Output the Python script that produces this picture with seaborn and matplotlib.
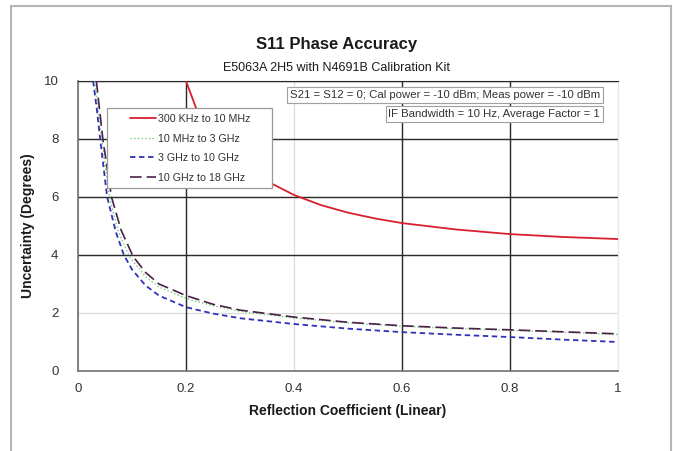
import pandas as pd
import matplotlib.pyplot as plt
import seaborn as sns
from matplotlib.patches import Rectangle

# Curve readings (reflection coefficient vs. phase uncertainty in degrees)
red_x = [0.2, 0.22, 0.25, 0.28, 0.3, 0.33, 0.36, 0.4, 0.45, 0.5, 0.55, 0.6, 0.7, 0.8, 0.9, 1.0]
red_y = [10.0, 9.0, 8.1, 7.45, 7.1, 6.75, 6.45, 6.07, 5.72, 5.46, 5.26, 5.1, 4.88, 4.72, 4.62, 4.55]

green_x = [0.031, 0.037, 0.044, 0.058, 0.075, 0.095, 0.125, 0.15, 0.2, 0.25, 0.3, 0.4, 0.5, 0.6, 0.7, 0.8, 0.9, 1.0]
green_y = [10.0, 9.0, 8.0, 6.0, 4.8, 3.95, 3.25, 2.9, 2.5, 2.25, 2.06, 1.83, 1.66, 1.54, 1.46, 1.4, 1.33, 1.26]

blue_x = [0.028, 0.035, 0.041, 0.054, 0.07, 0.085, 0.1, 0.125, 0.15, 0.2, 0.25, 0.3, 0.4, 0.5, 0.6, 0.7, 0.8, 0.9, 1.0]
blue_y = [10.0, 9.0, 8.0, 6.0, 4.8, 4.0, 3.5, 2.95, 2.6, 2.2, 1.98, 1.82, 1.62, 1.46, 1.34, 1.25, 1.17, 1.08, 1.0]

purple_x = [0.034, 0.04, 0.046, 0.062, 0.08, 0.102, 0.125, 0.15, 0.2, 0.25, 0.3, 0.4, 0.5, 0.6, 0.7, 0.8, 0.9, 1.0]
purple_y = [10.0, 9.0, 8.0, 6.0, 4.85, 3.95, 3.4, 3.0, 2.6, 2.3, 2.1, 1.86, 1.68, 1.56, 1.48, 1.42, 1.35, 1.28]

labels = ['300 KHz to 10 MHz', '10 MHz to 3 GHz', '3 GHz to 10 GHz', '10 GHz to 18 GHz']
x_ticks = [0, 0.2, 0.4, 0.6, 0.8, 1]
x_ticklabels = ['0', '0.2', '0.4', '0.6', '0.8', '1']
y_ticks = [0, 2, 4, 6, 8, 10]
dark_x = [0.2, 0.6, 0.8]
dark_y = [4, 6, 8, 10]

sns.set_style('white')
plt.rcParams['font.family'] = ['Liberation Sans', 'DejaVu Sans']

fig = plt.figure(figsize=(6.73, 4.51), dpi=100)
ax = fig.add_axes([0.1159, 0.1774, 0.8024, 0.643])

# outer frame
fig.patches.append(Rectangle((11 / 673, -0.05), 660 / 673, 1 - 6 / 451 + 0.05,
                             transform=fig.transFigure, fill=False,
                             edgecolor='#b5b5b5', linewidth=1.5))

# grid: light for all, dark for the major ones
ax.grid(True, color='#dcdcdc', linewidth=0.9)
for v in dark_x:
    ax.axvline(v, color='#2a2a2a', linewidth=1.0, zorder=1)
for v in dark_y:
    ax.axhline(v, color='#2a2a2a', linewidth=1.0, zorder=1)

styles = [
    (red_x, red_y, '#d81f2e', '-', 1.3),
    (green_x, green_y, '#6fcf6f', ':', 1.0),
    (blue_x, blue_y, '#3030b8', (0, (3, 2)), 1.3),
    (purple_x, purple_y, '#4a1f4a', (0, (7, 3)), 1.2),
]
for (xs, ys, c, ls, lw), lab in zip(styles, labels):
    df = pd.DataFrame({'x': xs, 'y': ys})
    sns.lineplot(data=df, x='x', y='y', color=c, linestyle=ls, linewidth=lw,
                 label=lab, ax=ax, zorder=3)

ax.set_xlim(0, 1)
ax.set_ylim(0, 10)
ax.set_xticks(x_ticks)
ax.set_xticklabels(x_ticklabels)
ax.set_yticks(y_ticks)
ax.tick_params(axis='both', length=0, labelsize=9.5, colors='#333333')
ax.tick_params(axis='x', pad=9)
ax.tick_params(axis='y', pad=14)

for side in ['left', 'bottom']:
    ax.spines[side].set_color('#707070')
    ax.spines[side].set_linewidth(1.2)
ax.spines['top'].set_color('#2a2a2a')
ax.spines['right'].set_color('#e6e6e6')

ax.set_xlabel('Reflection Coefficient (Linear)', fontsize=10, fontweight='bold',
              color='#1a1a1a', labelpad=6)
ax.set_ylabel('Uncertainty (Degrees)', fontsize=10, fontweight='bold',
              color='#1a1a1a', labelpad=6)

# legend box (wider than its contents, as in the original)
ax.add_patch(Rectangle((29 / 540, 183 / 290), 165 / 540, 80 / 290, transform=ax.transAxes,
                       facecolor='white', edgecolor='#999999', linewidth=0.9, zorder=4))
leg = ax.legend(loc='upper left', bbox_to_anchor=(47 / 540, 0.905), borderaxespad=0,
                fontsize=7.7, frameon=False, handlelength=2.4, labelspacing=0.9,
                handletextpad=0.2, borderpad=0.5)
leg.set_zorder(6)
for t in leg.get_texts():
    t.set_color('#333333')

box = dict(boxstyle='square,pad=0.25', facecolor='white', edgecolor='#a0a0a0', linewidth=0.8)
ax.text(0.967, 0.952, 'S21 = S12 = 0; Cal power = -10 dBm; Meas power = -10 dBm',
        transform=ax.transAxes, ha='right', va='center', fontsize=8.2,
        color='#333333', bbox=box, zorder=5)
ax.text(0.967, 0.886, 'IF Bandwidth = 10 Hz, Average Factor = 1',
        transform=ax.transAxes, ha='right', va='center', fontsize=8.2,
        color='#333333', bbox=box, zorder=5)

fig.text(0.5, 1 - 44 / 451, 'S11 Phase Accuracy', ha='center', va='center',
         fontsize=12, fontweight='bold', color='#1a1a1a')
fig.text(0.5, 1 - 68 / 451, 'E5063A 2H5 with N4691B Calibration Kit', ha='center',
         va='center', fontsize=9, color='#1a1a1a')

fig.savefig('out.png', dpi=100)
